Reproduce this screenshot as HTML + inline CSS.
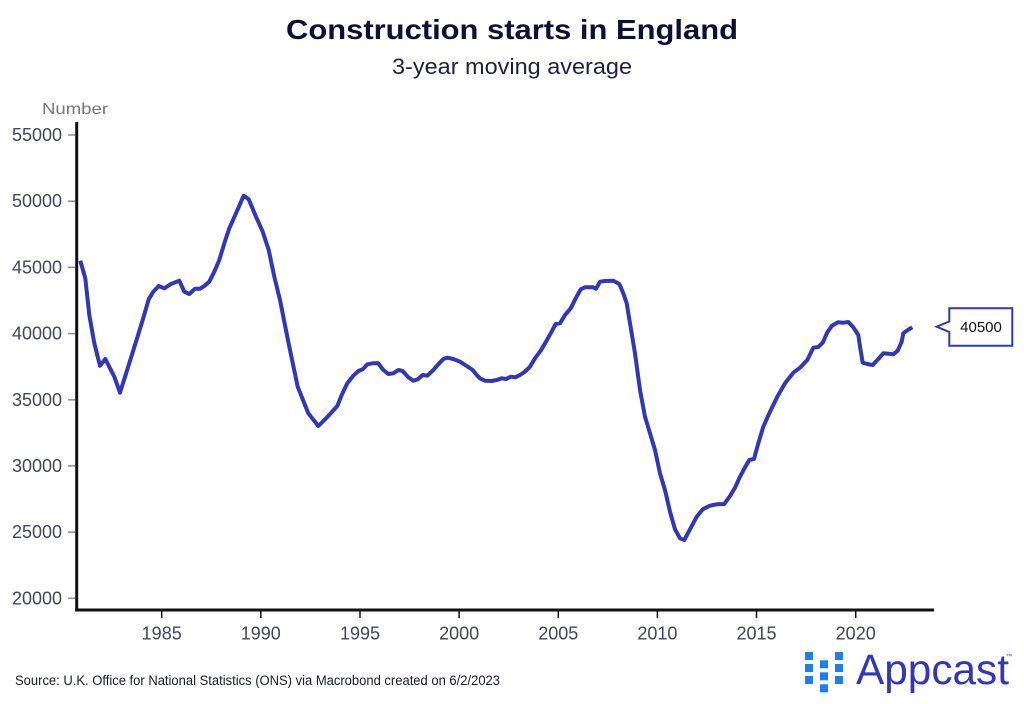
<!DOCTYPE html>
<html>
<head>
<meta charset="utf-8">
<style>
html,body{margin:0;padding:0;background:#fff;}
svg{display:block;}
text{font-family:"Liberation Sans",sans-serif;}
</style>
</head>
<body>
<svg width="1024" height="704" viewBox="0 0 1024 704" xmlns="http://www.w3.org/2000/svg">
<rect width="1024" height="704" fill="#fff"/>
<!-- Title -->
<text x="512" y="39" text-anchor="middle" font-size="28" font-weight="bold" fill="#0e0e38" textLength="452" lengthAdjust="spacingAndGlyphs">Construction starts in England</text>
<text x="512" y="74" text-anchor="middle" font-size="22" fill="#1e1e48" textLength="240" lengthAdjust="spacingAndGlyphs">3-year moving average</text>
<!-- Axis label -->
<text x="42" y="114" font-size="16" fill="#777" textLength="66" lengthAdjust="spacingAndGlyphs">Number</text>
<!-- Y ticks -->
<g stroke="#8a8a9a" stroke-width="1.5">
<line x1="68" y1="135" x2="75" y2="135"/>
<line x1="68" y1="201.2" x2="75" y2="201.2"/>
<line x1="68" y1="267.4" x2="75" y2="267.4"/>
<line x1="68" y1="333.6" x2="75" y2="333.6"/>
<line x1="68" y1="399.8" x2="75" y2="399.8"/>
<line x1="68" y1="465.9" x2="75" y2="465.9"/>
<line x1="68" y1="532.1" x2="75" y2="532.1"/>
<line x1="68" y1="598.3" x2="75" y2="598.3"/>
</g>
<g font-size="18" fill="#44445f" text-anchor="end">
<text x="62" y="141">55000</text>
<text x="62" y="207.2">50000</text>
<text x="62" y="273.4">45000</text>
<text x="62" y="339.6">40000</text>
<text x="62" y="405.8">35000</text>
<text x="62" y="471.9">30000</text>
<text x="62" y="538.1">25000</text>
<text x="62" y="604.3">20000</text>
</g>
<!-- X ticks -->
<g stroke="#111" stroke-width="1.5">
<line x1="161.7" y1="610" x2="161.7" y2="618"/>
<line x1="260.8" y1="610" x2="260.8" y2="618"/>
<line x1="360" y1="610" x2="360" y2="618"/>
<line x1="459.1" y1="610" x2="459.1" y2="618"/>
<line x1="558.3" y1="610" x2="558.3" y2="618"/>
<line x1="657.4" y1="610" x2="657.4" y2="618"/>
<line x1="756.5" y1="610" x2="756.5" y2="618"/>
<line x1="855.7" y1="610" x2="855.7" y2="618"/>
</g>
<g font-size="18" fill="#44445f" text-anchor="middle">
<text x="161.7" y="639.5">1985</text>
<text x="260.8" y="639.5">1990</text>
<text x="360" y="639.5">1995</text>
<text x="459.1" y="639.5">2000</text>
<text x="558.3" y="639.5">2005</text>
<text x="657.4" y="639.5">2010</text>
<text x="756.5" y="639.5">2015</text>
<text x="855.7" y="639.5">2020</text>
</g>
<!-- Axes -->
<line x1="76.7" y1="122" x2="76.7" y2="611.5" stroke="#111" stroke-width="3"/>
<line x1="75.2" y1="610" x2="934" y2="610" stroke="#111" stroke-width="3"/>
<!-- Series -->
<polyline fill="none" stroke="#3037b9" stroke-width="4" stroke-linejoin="round" stroke-linecap="butt" points="80.3,260.7 85.3,278.3 89.3,315 94.3,343.3 100,365.7 105.3,359 114.3,376.7 120,392.7 127.7,368.3 136,341.7 142.7,320 148.7,299.3 153.3,291.7 158.7,286 164.3,288.3 171,284 179.3,280.7 184.3,291.7 189.3,294 195,288.7 200,288.7 204.3,286 209.3,281.7 214.3,271.7 219.3,260 224.3,243.3 229.3,228.3 236,213.3 243.7,195.7 248.7,199.3 256,216.7 262.7,231.7 268.7,250 274.3,276.7 280,300 284.3,321.7 289.3,346.7 297.7,386.7 308.3,413.3 318.3,426 327.7,416.7 337.3,406 341.7,395 347.3,383.3 353.3,375.7 358.3,371 362.7,369.3 367.3,364.3 372.7,363.3 378.3,363.3 383.3,370 388.3,374 393.3,373.3 398.3,370 402.7,371 408.3,377.3 413.3,380.7 417.7,379.3 422.7,375 427.3,375.7 433.3,370 438.3,364.3 443.3,359 447.3,357.7 453.3,359 460,361.7 466.7,366 472.7,370 476.7,375 480,378.3 485,380.7 491.7,381 496.7,380 501.7,378.3 506,379 511,376.7 515.3,377.3 520,375 525,371.7 530,366.7 535,358.3 540.7,350.7 546,341.7 550.7,333.3 555.7,324 560,323.3 565,315 570.7,308.3 575.7,298.3 580.7,289.3 585,287.3 593.3,287.3 596,288.7 600,281.7 605,281 613.3,280.7 619.3,284 623.3,293.3 626.7,303.3 630,323.3 635,353.3 640,390 645,416.7 650,433.3 655,450 660,473.3 665,490 670,511.7 675,529.3 680,538.3 684.3,540 690,529.3 696.7,516.7 702.7,509.3 710,505.7 716.7,504.3 724.3,504 730,496 735,487.7 740,476.7 745,467.3 749.3,460 754,459 758.3,443.3 763.3,426.7 770,411.7 777.3,396.7 785,383.3 793.3,372.7 800,367.7 807.3,360 813.3,347.7 818.3,347 822.7,342.7 827.3,332.3 831.7,326 837.7,322.3 843.3,322.7 848.3,322 853.3,327.3 858.3,335 860,346.7 862.7,362.7 867.3,364 872.7,365 878.3,359 883.3,353.3 888.3,353.7 893.3,354.3 897.7,350.7 901.7,341.7 903.3,333.3 906.7,330.7 912.3,327.3"/>
<!-- Callout -->
<path d="M936.7,326.7 L949.3,321.5 L949.3,308.3 L1012.3,308.3 L1012.3,345.7 L949.3,345.7 L949.3,332 Z" fill="#fff" stroke="#3037b9" stroke-width="2" stroke-linejoin="miter"/>
<text x="981" y="332" text-anchor="middle" font-size="15" fill="#111">40500</text>
<!-- Footer -->
<text x="15" y="685" font-size="13.5" fill="#1a1a2e" textLength="485" lengthAdjust="spacingAndGlyphs">Source: U.K. Office for National Statistics (ONS) via Macrobond created on 6/2/2023</text>
<!-- Logo -->
<g fill="#1a80f2">
<rect x="805" y="652" width="8" height="8"/>
<rect x="805" y="664" width="8" height="8"/>
<rect x="805" y="676" width="8" height="8"/>
<rect x="820" y="660.3" width="8" height="8"/>
<rect x="820" y="672.3" width="8" height="8"/>
<rect x="820" y="684.3" width="8" height="8"/>
<rect x="835" y="652" width="8" height="8"/>
<rect x="835" y="664" width="8" height="8"/>
<rect x="835" y="676" width="8" height="8"/>
</g>
<text x="856" y="684" font-size="43" fill="#3136ba" textLength="153" lengthAdjust="spacingAndGlyphs">Appcast</text>
<text x="1006" y="658" font-size="6" fill="#3136ba">™</text>
</svg>
</body>
</html>
